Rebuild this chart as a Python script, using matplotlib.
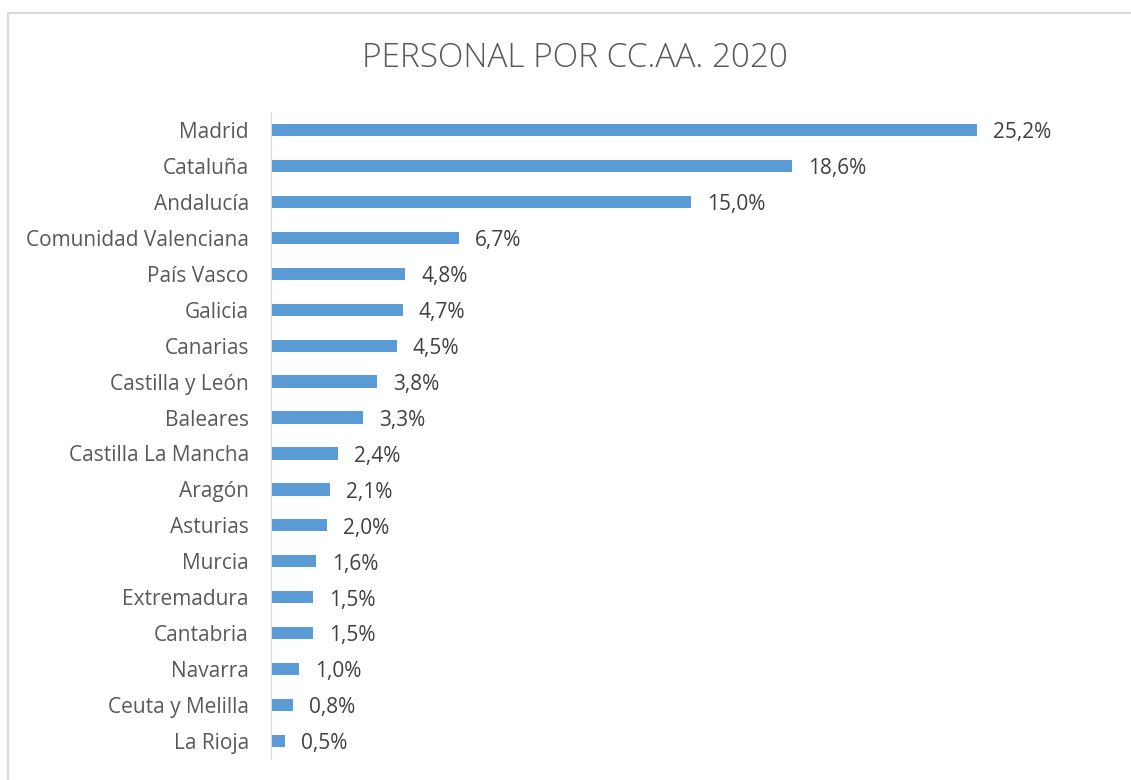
import matplotlib
matplotlib.use("Agg")
import matplotlib.pyplot as plt
from matplotlib.patches import Rectangle

regions = ["Madrid", "Cataluña", "Andalucía", "Comunidad Valenciana", "País Vasco",
           "Galicia", "Canarias", "Castilla y León", "Baleares", "Castilla La Mancha",
           "Aragón", "Asturias", "Murcia", "Extremadura", "Cantabria", "Navarra",
           "Ceuta y Melilla", "La Rioja"]
shares = [25.2, 18.6, 15.0, 6.7, 4.8, 4.7, 4.5, 3.8, 3.3, 2.4, 2.1, 2.0, 1.6, 1.5, 1.5,
          1.0, 0.8, 0.5]

plt.rcParams['font.family'] = ['Open Sans', 'DejaVu Sans']

fig = plt.figure(figsize=(11.31, 7.8), dpi=100)
ax = fig.add_axes([271/1131, 1 - 759/780, 840/1131, 647/780])

ypos = list(range(len(regions)))
ax.barh(ypos, shares, height=0.34, color="#5B9BD5")
ax.set_xlim(0, 30)
ax.set_ylim(len(regions) - 0.5, -0.5)
ax.set_yticks(ypos)
ax.set_yticklabels(regions, fontsize=15, color="#595959")
ax.tick_params(axis="y", length=0, pad=16)
ax.set_xticks([])
for s in ["top", "right", "bottom"]:
    ax.spines[s].set_visible(False)
ax.spines["left"].set_color("#D9D9D9")

for y, v in zip(ypos, shares):
    ax.annotate(f"{v:.1f}%".replace(".", ","), (v, y), xytext=(11.5, -2),
                textcoords="offset points", va="center", ha="left",
                fontsize=15, color="#404040")

fig.text(575/1131, 1 - 58/780, "PERSONAL POR CC.AA. 2020", ha="center", va="center",
         fontsize=24, color="#595959", fontweight="light")

fig.patches.append(Rectangle((8/1131, -0.1), 1.2, 1 - 13/780 + 0.1,
                             transform=fig.transFigure, fill=False,
                             edgecolor="#D9D9D9", linewidth=1.5))

fig.savefig("out.png", dpi=100)
